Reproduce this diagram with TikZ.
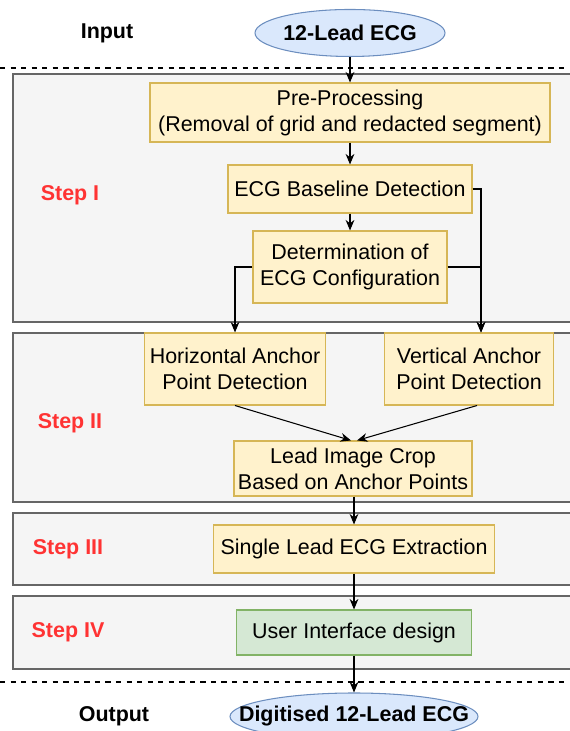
\documentclass[tikz,border=0pt]{standalone}
\usepackage{fontspec}
\setmainfont{Liberation Sans}
\usetikzlibrary{shapes.geometric,arrows.meta}

\definecolor{procfill}{HTML}{FFF2CC}
\definecolor{procline}{HTML}{D6B656}
\definecolor{uifill}{HTML}{D5E8D4}
\definecolor{uiline}{HTML}{82B366}
\definecolor{termfill}{HTML}{DAE8FC}
\definecolor{termline}{HTML}{6C8EBF}
\definecolor{panelfill}{HTML}{F5F5F5}
\definecolor{panelline}{HTML}{666666}
\definecolor{steptext}{HTML}{FF3333}

\begin{document}
\begin{tikzpicture}[align=center,
  font=\fontsize{12.2}{14.8}\selectfont,
  proc/.style={draw=procline,fill=procfill,line width=0.6pt,inner sep=0pt},
  uibox/.style={draw=uiline,fill=uifill,line width=0.6pt,inner sep=0pt},
  term/.style={ellipse,draw=termline,fill=termfill,line width=0.6pt,inner xsep=-0.6cm,inner ysep=0pt,font=\fontsize{12.2}{14.8}\selectfont\bfseries},
  panel/.style={draw=panelline,fill=panelfill,line width=0.6pt},
  steplbl/.style={text=steptext,font=\fontsize{12.2}{14.8}\selectfont\bfseries},
  arrow/.style={-{Stealth[length=6pt,width=5pt]},line width=0.6pt}]

\useasboundingbox (0,0) rectangle (11.38,14.62);

% step panels
\draw[panel] (0.26,13.14) rectangle (11.6,8.18);
\draw[panel] (0.26,7.96) rectangle (11.6,4.58);
\draw[panel] (0.26,4.36) rectangle (11.6,2.92);
\draw[panel] (0.26,2.70) rectangle (11.6,1.24);

% input / output separators
\draw[dashed,line width=0.6pt] (0,13.26) -- (11.38,13.26);
\draw[dashed,line width=0.6pt] (0,0.98) -- (11.38,0.98);

\node[font=\fontsize{12.2}{14.8}\selectfont\bfseries] (inlbl) at (2.14,13.96) {Input};
\node[term,minimum width=3.8cm,minimum height=0.94cm] (in) at (7.0,13.96) {12-Lead ECG};

\node[steplbl] (s1) at (1.4,10.72) {Step I};
\node[proc,minimum width=8.0cm,minimum height=1.18cm] (pre) at (7.0,12.37)
  {Pre-Processing\\(Removal of grid and redacted segment)};
\node[proc,minimum width=4.88cm,minimum height=0.96cm] (base) at (7.0,10.84) {ECG Baseline Detection};
\node[proc,minimum width=3.88cm,minimum height=1.44cm] (config) at (7.0,9.28)
  {Determination of\\ECG Configuration};

\node[steplbl] (s2) at (1.4,6.16) {Step II};
\node[proc,minimum width=3.62cm,minimum height=1.44cm] (horz) at (4.7,7.24)
  {Horizontal Anchor\\Point Detection};
\node[proc,minimum width=3.38cm,minimum height=1.44cm] (vert) at (9.38,7.24)
  {Vertical Anchor\\Point Detection};
\node[proc,minimum width=4.76cm,minimum height=1.1cm] (crop) at (7.06,5.25)
  {Lead Image Crop\\Based on Anchor Points};

\node[steplbl] (s3) at (1.36,3.64) {Step III};
\node[proc,minimum width=5.62cm,minimum height=0.96cm] (single) at (7.08,3.64)
  {Single Lead ECG Extraction};

\node[steplbl] (s4) at (1.36,1.98) {Step IV};
\node[uibox,minimum width=4.7cm,minimum height=0.9cm] (ui) at (7.08,1.97)
  {User Interface design};

\node[font=\fontsize{12.2}{14.8}\selectfont\bfseries] (outlbl) at (2.28,0.3) {Output};
\node[term,minimum width=4.96cm,minimum height=0.94cm] (out) at (7.08,0.29) {Digitised 12-Lead ECG};

% flow
\draw[arrow] (in) -- (pre);
\draw[arrow] (pre) -- (base);
\draw[arrow] (base) -- (config);
\draw[arrow] (base.east) -| ([xshift=0.24cm]vert.north);
\draw[arrow] (config.east) -| ([xshift=0.24cm]vert.north);
\draw[arrow] (config.west) -| (horz.north);
\draw[arrow] (horz.south) -- ([xshift=-0.04cm]crop.north);
\draw[arrow] ([xshift=0.16cm]vert.south) -- ([xshift=0.08cm]crop.north);
\draw[arrow] ([xshift=0.02cm]crop.south) -- (single.north);
\draw[arrow] (single) -- (ui);
\draw[arrow] (ui) -- (out);

\end{tikzpicture}
\end{document}
